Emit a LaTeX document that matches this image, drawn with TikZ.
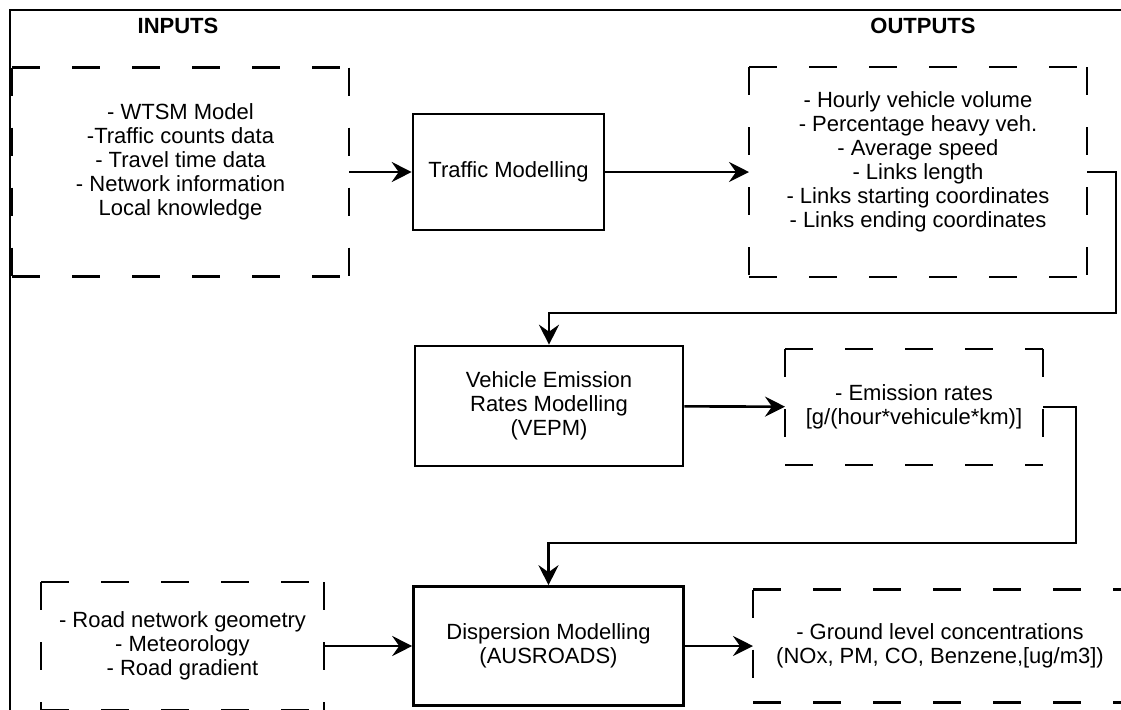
\documentclass[tikz,border=0pt]{standalone}
\usepackage{fontspec}
\setmainfont{Liberation Sans}
\usetikzlibrary{arrows.meta}

\begin{document}
\begin{tikzpicture}[x=0.5pt, y=-0.5pt,
	every node/.style={font=\fontsize{11}{12}\selectfont, align=center, inner sep=0pt},
	solidbox/.style={draw, line width=1.3pt},
	dashbox/.style={outer sep=0pt},
	dashside/.style={line width=1.3pt, dash pattern=on 14pt off 16pt},
	arr/.style={line width=1.3pt, -{Stealth[length=10pt, width=10pt, inset=3.5pt]}}]
\useasboundingbox (0,0) rectangle (1121,709);
\clip (0,0) rectangle (1121,709);
\draw[line width=1.3pt] (10,10) rectangle (1150,740);

\node (hin) at (178,26) {\bfseries INPUTS};
\node (hout) at (923,26) {\bfseries OUTPUTS};

\node[dashbox, minimum width=168.5pt, minimum height=104.5pt] (inp) at (180.5,172) {- WTSM Model\\-Traffic counts data\\- Travel time data\\- Network information\\Local knowledge\\ ~};
\node[solidbox, minimum width=95.5pt, minimum height=58pt] (traffic) at (508.5,172) {Traffic Modelling};
\node[dashbox, minimum width=169pt, minimum height=105pt] (outp) at (918,172) {- Hourly vehicle volume\\- Percentage heavy veh.\\- Average speed\\- Links length\\- Links starting coordinates\\- Links ending coordinates\\ ~};

\node[solidbox, minimum width=134pt, minimum height=60pt] (veh) at (549,406) {Vehicle Emission\\Rates Modelling\\(VEPM)};
\node[dashbox, minimum width=129pt, minimum height=58pt] (emis) at (914,407) {- Emission rates\\{[g/(hour*vehicule*km)]}};

\node[dashbox, minimum width=141.5pt, minimum height=64pt] (road) at (182.5,646) {- Road network geometry\\- Meteorology\\- Road gradient};
\node[solidbox, minimum width=135pt, minimum height=59.5pt] (disp) at (548.5,646) {Dispersion Modelling\\(AUSROADS)};
\node[dashbox, minimum width=187pt, minimum height=56.5pt] (ground) at (940,646) {- Ground level concentrations\\(NOx, PM, CO, Benzene,[ug/m3])};

\foreach \b in {inp, outp, emis, road, ground} {
	\draw[dashside] (\b.north west) -- (\b.north east);
	\draw[dashside] (\b.south west) -- (\b.south east);
	\draw[dashside] (\b.north west) -- (\b.south west);
	\draw[dashside] (\b.north east) -- (\b.south east);
}

\coordinate (k1) at (1116,313);
\coordinate (k2) at (1076,543);

\draw[arr] (inp) -- (traffic);
\draw[arr] (traffic) -- (outp);
\draw[arr] (outp.east) -| (k1) -| (veh.north);
\draw[arr] (veh) -- (emis);
\draw[arr] (emis.east) -| (k2) -| (disp.north);
\draw[arr] (road) -- (disp);
\draw[arr] (disp) -- (ground);
\end{tikzpicture}
\end{document}
